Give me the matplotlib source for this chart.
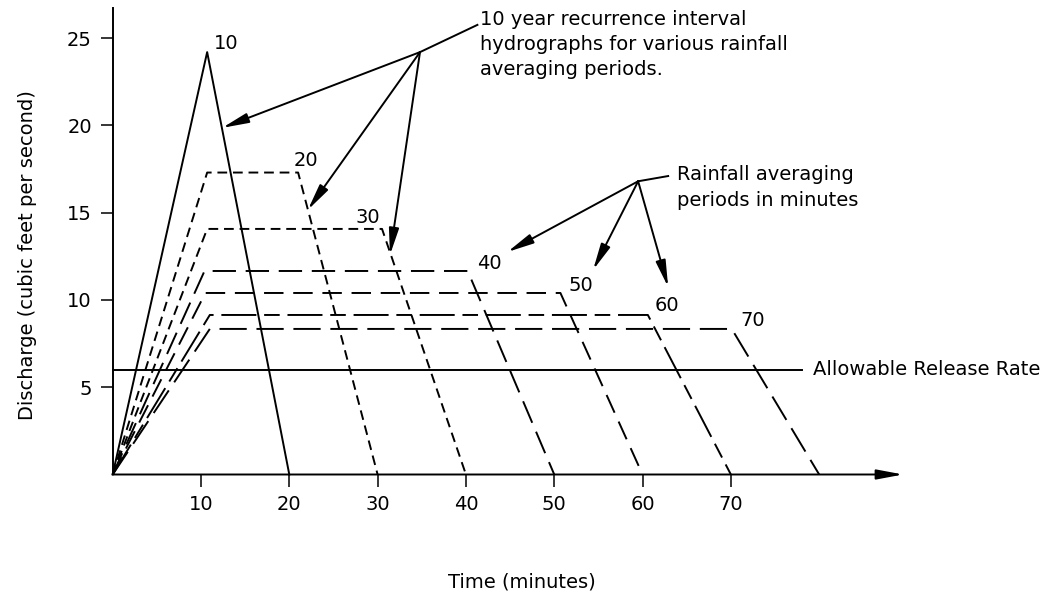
import matplotlib
matplotlib.use("Agg")
import matplotlib.pyplot as plt

# ---------------------------------------------------------------------------
# Hydrograph data
# ---------------------------------------------------------------------------
periods   = [10, 20, 30, 40, 50, 60, 70]               # rainfall averaging periods, min
rise_end  = [10.7, 10.7, 10.7, 10.4, 10.5, 11.0, 11.0]  # time the rising limb ends
flat_end  = [10.7, 21.0, 30.5, 40.2, 50.7, 60.6, 70.1]  # time the plateau ends
peaks     = [24.2, 17.3, 14.07, 11.66, 10.4, 9.14, 8.34]
fall_end  = [20, 30, 40, 50, 60, 70, 80]
styles    = ["-", (0, (5, 3)), (0, (5, 3)), (0, (12, 5)),
             (0, (10, 5)), (0, (18, 4, 8, 4)), (0, (14, 5))]

# label spots for each hydrograph
label_t = [12.8, 21.9, 28.9, 42.6, 53.0, 62.8, 72.5]
label_q = [24.7, 18.0, 14.75, 12.1, 10.8, 9.66, 8.85]

release_rate = 6.0
release_end  = 78.1

x_ticks = [10, 20, 30, 40, 50, 60, 70]
y_ticks = [5, 10, 15, 20, 25]

# callout 1: junction, leader end, arrow tips
c1_joint = (34.8, 24.2)
c1_lead  = (41.3, 25.76)
c1_tips  = [(12.4, 19.86), (22.1, 15.16), (31.4, 12.58)]
c1_text  = "10 year recurrence interval\nhydrographs for various rainfall\naveraging periods."

# callout 2
c2_joint = (59.5, 16.8)
c2_lead  = (62.9, 17.1)
c2_tips  = [(44.7, 12.75), (54.4, 11.72), (62.9, 10.74)]
c2_text  = "Rainfall averaging\nperiods in minutes"

# ---------------------------------------------------------------------------
# Plot
# ---------------------------------------------------------------------------
plt.rcParams["font.family"] = "DejaVu Sans"
FS = 14
LW = 1.4

fig = plt.figure(figsize=(10.49, 5.97), dpi=100)
ax = fig.add_axes([0.1074, 0.2052, 0.7535, 0.7806])
ax.set_xlim(0, 89.5)
ax.set_ylim(0, 26.7)

for i in range(len(periods)):
    ts = [0, rise_end[i], flat_end[i], fall_end[i]]
    qs = [0, peaks[i], peaks[i], 0]
    ax.plot(ts, qs, color="black", lw=LW, linestyle=styles[i], clip_on=False)
    ax.text(label_t[i], label_q[i], str(periods[i]), fontsize=FS,
            ha="center", va="center")

# allowable release rate
ax.plot([0, release_end], [release_rate, release_rate], color="black", lw=LW,
        clip_on=False)
ax.text(release_end + 1.2, release_rate, "Allowable Release Rate", fontsize=FS,
        ha="left", va="center")

# axes: left spine + arrowed x axis
for s in ["top", "right", "bottom"]:
    ax.spines[s].set_visible(False)
ax.spines["left"].set_linewidth(LW)
ax.annotate("", xy=(89.5, 0), xytext=(0, 0),
            arrowprops=dict(arrowstyle="-|>,head_length=1.6,head_width=0.3",
                            color="black", lw=LW, shrinkA=0, shrinkB=0),
            annotation_clip=False)

ax.set_xticks(x_ticks)
ax.set_yticks(y_ticks)
ax.tick_params(axis="both", direction="out", length=9, width=1.1,
               labelsize=FS, colors="black")
ax.tick_params(axis="x", pad=6)
ax.tick_params(axis="y", pad=6)

ax.set_ylabel("Discharge (cubic feet per second)", fontsize=FS)
ax.yaxis.set_label_coords(-0.096, 0.47)
fig.text(522 / 1049, 1 - 582 / 597, "Time (minutes)", fontsize=FS,
         ha="center", va="center")

# callouts
arrow_kw = dict(arrowstyle="-|>,head_length=1.6,head_width=0.3",
                color="black", lw=LW, shrinkA=0, shrinkB=0)
for joint, lead, tips, txt, toff, lsp in [
        (c1_joint, c1_lead, c1_tips, c1_text, (41.6, 26.6), 1.4),
        (c2_joint, c2_lead, c2_tips, c2_text, (63.9, 17.75), 1.5)]:
    ax.plot([joint[0], lead[0]], [joint[1], lead[1]], color="black", lw=LW,
            clip_on=False)
    for tip in tips:
        ax.annotate("", xy=tip, xytext=joint, arrowprops=arrow_kw,
                    annotation_clip=False)
    ax.text(toff[0], toff[1], txt, fontsize=FS, ha="left", va="top",
            linespacing=lsp)

fig.savefig("out.png", dpi=100, facecolor="white")
